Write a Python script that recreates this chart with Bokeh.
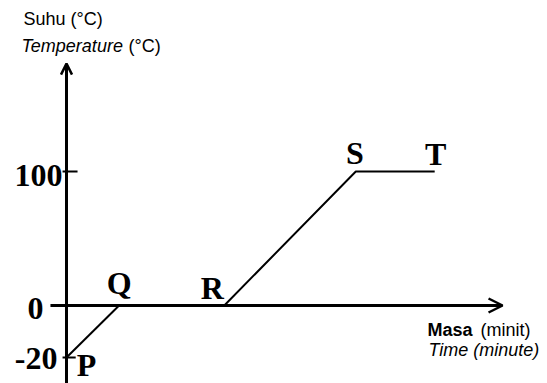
from bokeh.plotting import figure
from bokeh.models import Range1d, Arrow, OpenHead, Label
from bokeh.core.properties import value
from bokeh.embed import file_html
from bokeh.resources import INLINE

# ---- data ----
time_min = [0, 2, 6, 11, 14]
temp_c = [-20, 0, 0, 100, 100]
point_names = ["P", "Q", "R", "S", "T"]
y_tick_values = [100, 0, -20]
y_tick_labels = ["100", "0", "-20"]

# ---- figure ----
W, H = 547, 383
p = figure(width=W, height=H, output_backend="svg", toolbar_location=None,
           x_axis_location=None, y_axis_location=None, min_border=0,
           x_range=Range1d(-2.5095, 18.289), y_range=Range1d(-58.21, 227.61))
p.grid.visible = False
p.outline_line_color = None
# the diagram is not to scale below zero: use a separate range for negatives
p.extra_y_ranges = {"neg": Range1d(-30.0, 117.31)}

serif = value("Liberation Serif")

# axes
p.add_layout(Arrow(end=OpenHead(size=11, line_width=2.5, line_color="black"),
                   x_start=0, y_start=-58.21, x_end=0, y_end=180.5,
                   line_width=3, line_color="black"))
p.add_layout(Arrow(end=OpenHead(size=14, line_width=2.5, line_color="black"),
                   x_start=-0.61, y_start=0, x_end=16.58, y_end=0,
                   line_width=3, line_color="black"))

# ticks
p.segment(x0=[-0.15], x1=[0.42], y0=[y_tick_values[0]], y1=[y_tick_values[0]],
          line_width=2, line_color="black")
p.segment(x0=[-0.15], x1=[0.35], y0=[y_tick_values[2]], y1=[y_tick_values[2]],
          line_width=2, line_color="black", y_range_name="neg")

# tick labels
tick_off = [(-4, 4), (-23, 3), (-9, 1)]
for i, (v, t) in enumerate(zip(y_tick_values, y_tick_labels)):
    kw = {"y_range_name": "neg"} if v < 0 else {}
    p.text(x=[0], y=[v], text=[t], x_offset=tick_off[i][0], y_offset=tick_off[i][1],
           text_align="right", text_baseline="middle", text_font=serif,
           text_font_style="bold", text_font_size="32px", text_color="black", **kw)

# heating curve
p.line(x=time_min[:2], y=temp_c[:2], line_width=2, line_color="black", y_range_name="neg")
p.line(x=time_min[1:], y=temp_c[1:], line_width=2, line_color="black")

# point labels
offsets = [(20, 7), (0, -22), (-12, -17), (-1, -18), (1, -17)]
for i, name in enumerate(point_names):
    kw = {"y_range_name": "neg"} if temp_c[i] < 0 else {}
    p.text(x=[time_min[i]], y=[temp_c[i]], text=[name],
           x_offset=offsets[i][0], y_offset=offsets[i][1],
           text_align="center", text_baseline="middle", text_font=serif,
           text_font_style="bold", text_font_size="32px", text_color="black", **kw)

# axis titles
def lab(x, y, t, style="normal"):
    p.add_layout(Label(x=x, y=y, x_units="screen", y_units="screen", text=t,
                       text_font="Liberation Sans", text_font_size="18px",
                       text_font_style=style, text_baseline="middle",
                       text_color="black"))

lab(23, 365, "Suhu (°C)")
lab(21, 338, "Temperature", "italic")
lab(128, 338, "(°C)")
lab(427, 54, "Masa", "bold")
lab(480, 54, "(minit)")
lab(428, 34, "Time (minute)", "italic")

open("out.html", "w").write(file_html(p, INLINE))
